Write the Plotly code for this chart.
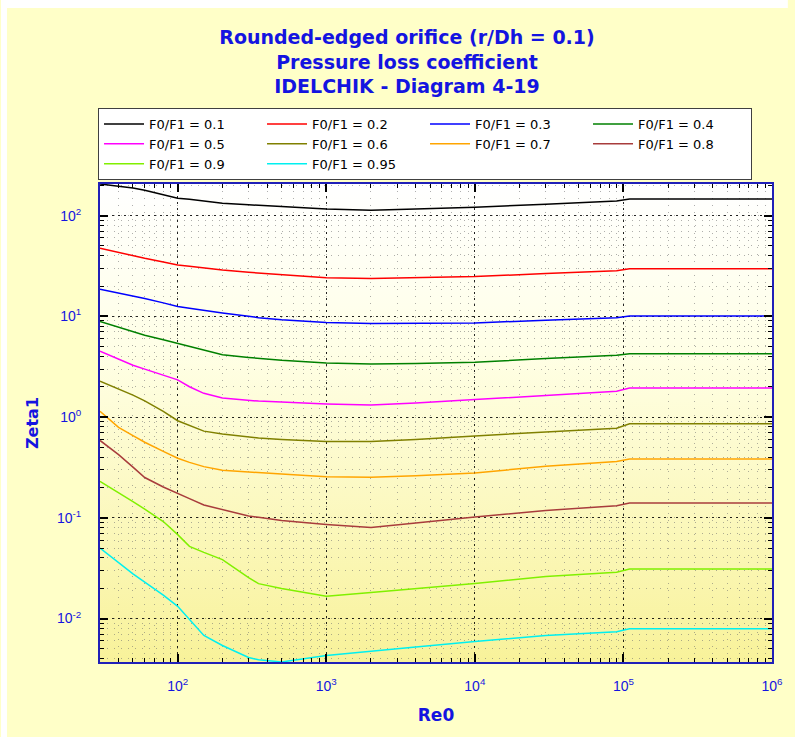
import base64
import math
import plotly.graph_objects as go

# ---------------- data ----------------
RE = [30, 40, 50, 60, 80, 100, 120, 150, 200, 300, 350, 500, 1000, 2000, 4000,
      10000, 30000, 90000, 110000, 1000000]

zeta_01 = [206, 196, 188, 179, 161, 149, 145, 139, 133, 128, 127, 123, 116, 113, 116,
           121, 130, 140, 146, 146]
zeta_02 = [47.5, 43.0, 39.9, 37.7, 34.7, 32.4, 31.5, 30.3, 28.9, 27.4, 26.9, 25.8, 24.1, 23.7, 24.0,
           24.8, 26.6, 28.4, 29.6, 29.6]
zeta_03 = [18.6, 17.1, 16.0, 15.0, 13.6, 12.5, 12.0, 11.4, 10.8, 10.0, 9.7, 9.25, 8.7, 8.5, 8.5,
           8.6, 9.16, 9.7, 10.1, 10.1]
zeta_04 = [8.87, 7.74, 6.97, 6.50, 5.86, 5.4, 5.05, 4.62, 4.15, 3.91, 3.82, 3.66, 3.45, 3.36, 3.40,
           3.5, 3.81, 4.1, 4.25, 4.25]
zeta_05 = [4.5, 3.77, 3.27, 2.99, 2.61, 2.34, 2.0, 1.72, 1.55, 1.46, 1.44, 1.41, 1.35, 1.32, 1.38,
           1.49, 1.64, 1.80, 1.94, 1.94]
zeta_06 = [2.27, 1.90, 1.65, 1.45, 1.14, 0.92, 0.83, 0.725, 0.68, 0.63, 0.62, 0.60, 0.573, 0.573, 0.60,
           0.65, 0.71, 0.774, 0.857, 0.857]
zeta_07 = [1.14, 0.79, 0.653, 0.562, 0.457, 0.39, 0.355, 0.322, 0.296, 0.283, 0.279, 0.272, 0.256, 0.253, 0.262,
           0.278, 0.325, 0.363, 0.383, 0.383]
zeta_08 = [0.586, 0.424, 0.318, 0.251, 0.202, 0.176, 0.155, 0.134, 0.121, 0.104, 0.101, 0.094, 0.086, 0.080, 0.089,
           0.102, 0.118, 0.132, 0.140, 0.140]
zeta_09 = [0.23, 0.179, 0.145, 0.122, 0.0918, 0.068, 0.052, 0.0453, 0.0384, 0.0255, 0.0222, 0.0199, 0.0166, 0.0181, 0.0198,
           0.0222, 0.0262, 0.0288, 0.031, 0.031]
zeta_095 = [0.050, 0.0358, 0.0278, 0.0230, 0.0171, 0.0132, 0.0097, 0.0068, 0.0054, 0.0041, 0.0039, 0.0037, 0.0043, 0.0047, 0.0052,
            0.0059, 0.0068, 0.0074, 0.0079, 0.0079]

SERIES_NAMES = ["F0/F1 = 0.1", "F0/F1 = 0.2", "F0/F1 = 0.3", "F0/F1 = 0.4", "F0/F1 = 0.5",
                "F0/F1 = 0.6", "F0/F1 = 0.7", "F0/F1 = 0.8", "F0/F1 = 0.9", "F0/F1 = 0.95"]
SERIES_VALUES = [zeta_01, zeta_02, zeta_03, zeta_04, zeta_05, zeta_06, zeta_07, zeta_08, zeta_09, zeta_095]
SERIES_COLORS = ["#000000", "#FF0000", "#0000FF", "#008000", "#FF00FF",
                 "#808000", "#FFA500", "#A83C3C", "#80F000", "#00F0F0"]

X_TICK_VALUES = [100, 1000, 10000, 100000, 1000000]
X_TICK_LABELS = ["10<sup>2</sup>", "10<sup>3</sup>", "10<sup>4</sup>", "10<sup>5</sup>", "10<sup>6</sup>"]
Y_TICK_VALUES = [0.01, 0.1, 1, 10, 100]
Y_TICK_LABELS = ["10<sup>-2</sup>", "10<sup>-1</sup>", "10<sup>0</sup>", "10<sup>1</sup>", "10<sup>2</sup>"]

X_RANGE = [30, 1000000]
Y_RANGE = [0.0037, 206]

# ---------------- layout constants ----------------
W, H = 795, 737
ML, MR, MT, MB = 100, 16, 184, 75
PW, PH = W - ML - MR, H - MT - MB

BLUE = "#1414E0"
AXIS_BLUE = "#2020B8"
FONT = "Liberation Sans, Arial, sans-serif"
WIDE = "DejaVu Sans, Verdana, sans-serif"

fig = go.Figure()
for name, vals, col in zip(SERIES_NAMES, SERIES_VALUES, SERIES_COLORS):
    fig.add_trace(go.Scatter(x=RE, y=vals, mode="lines", name=name,
                             line=dict(color=col, width=1.5)))

xr = [math.log10(v) for v in X_RANGE]
yr = [math.log10(v) for v in Y_RANGE]

common_ax = dict(type="log", showline=True, linecolor=AXIS_BLUE, linewidth=2,
                 mirror="allticks", ticks="inside", ticklen=8, tickwidth=1.5,
                 tickcolor="#000000", tickmode="array",
                 showgrid=True, gridcolor="rgba(0,0,0,0.85)", griddash="2px,4px", gridwidth=1,
                 tickfont=dict(family=FONT, size=14, color=BLUE),
                 minor=dict(ticks="inside", ticklen=4, tickwidth=1.2, tickcolor="#000000",
                            dtick="D1", showgrid=True, gridcolor="rgba(110,110,110,0.55)",
                            griddash="1px,6px", gridwidth=1),
                 zeroline=False)

fig.update_layout(
    width=W, height=H,
    margin=dict(l=ML, r=MR, t=MT, b=MB),
    paper_bgcolor="#FFFFC8",
    plot_bgcolor="rgba(0,0,0,0)",
    font=dict(family=FONT, color=BLUE),
    title=dict(text="Rounded-edged orifice (r/Dh = 0.1)<br>Pressure loss coefficient<br>IDELCHIK - Diagram 4-19",
               font=dict(family=WIDE, size=19, color=BLUE, weight="bold"),
               x=407 / W, xref="container", xanchor="center",
               y=1 - 44 / H, yref="container", yanchor="top"),
    xaxis=dict(common_ax, range=xr, tickvals=X_TICK_VALUES, ticktext=X_TICK_LABELS,
               ticklabelstandoff=10,
               title=dict(text="Re0", font=dict(family=WIDE, size=17, color=BLUE, weight="bold"),
                          standoff=16)),
    yaxis=dict(common_ax, range=yr, tickvals=Y_TICK_VALUES, ticktext=Y_TICK_LABELS,
               ticklabelstandoff=14,
               title=dict(text="Zeta1", font=dict(family=WIDE, size=16, color=BLUE, weight="bold"),
                          standoff=14)),
    xaxis2=dict(type="log", overlaying="x", side="bottom", anchor="y", range=xr,
                tickmode="array", tickvals=X_TICK_VALUES, showticklabels=False,
                ticks="outside", ticklen=6, tickwidth=1.5, tickcolor="#000000",
                showline=False, showgrid=False, zeroline=False,
                minor=dict(ticks="outside", ticklen=4, tickwidth=1.2, tickcolor="#000000",
                           dtick="D1", showgrid=False)),
    yaxis2=dict(type="log", overlaying="y", side="left", anchor="x", range=yr,
                tickmode="array", tickvals=Y_TICK_VALUES, showticklabels=False,
                ticks="outside", ticklen=8, tickwidth=1.5, tickcolor="#000000",
                showline=False, showgrid=False, zeroline=False,
                minor=dict(ticks="outside", ticklen=4, tickwidth=1.2, tickcolor="#000000",
                           dtick="D1", showgrid=False)),
    legend=dict(orientation="h", x=(98 - ML) / PW, xanchor="left",
                y=(PH + MT - 108) / PH, yanchor="top",
                bgcolor="#FFFFFF", bordercolor="#404040", borderwidth=1,
                entrywidth=108, entrywidthmode="pixels",
                font=dict(family=WIDE, size=13, color="#000000"),
                itemwidth=40, tracegroupgap=0),
    showlegend=True,
)

# white strips at the top and left edge of the picture
fig.add_shape(type="rect", xref="paper", yref="paper", layer="below",
              x0=-ML / PW, x1=(W - ML) / PW, y0=(PH + MT - 8) / PH, y1=(PH + MT + 2) / PH,
              fillcolor="#FFFFFF", line=dict(width=0))
fig.add_shape(type="rect", xref="paper", yref="paper", layer="below",
              x0=-ML / PW, x1=(6 - ML) / PW, y0=-MB / PH, y1=(PH + MT) / PH,
              fillcolor="#FFFFFF", line=dict(width=0))

# vertical gradient background of the plotting area
svg = ('<svg xmlns="http://www.w3.org/2000/svg" width="100" height="100" preserveAspectRatio="none">'
       '<defs><linearGradient id="g" x1="0" y1="0" x2="0" y2="1">'
       '<stop offset="0" stop-color="#FFFFFF"/><stop offset="0.35" stop-color="#FFFFE6"/>'
       '<stop offset="1" stop-color="#F8F29A"/></linearGradient></defs>'
       '<rect width="100" height="100" fill="url(#g)"/></svg>')
src = "data:image/svg+xml;base64," + base64.b64encode(svg.encode()).decode()
fig.add_layout_image(dict(source=src, xref="paper", yref="paper", x=0, y=1,
                          sizex=1, sizey=1, sizing="stretch", xanchor="left", yanchor="top",
                          layer="below"))

fig.write_html("out.html")
